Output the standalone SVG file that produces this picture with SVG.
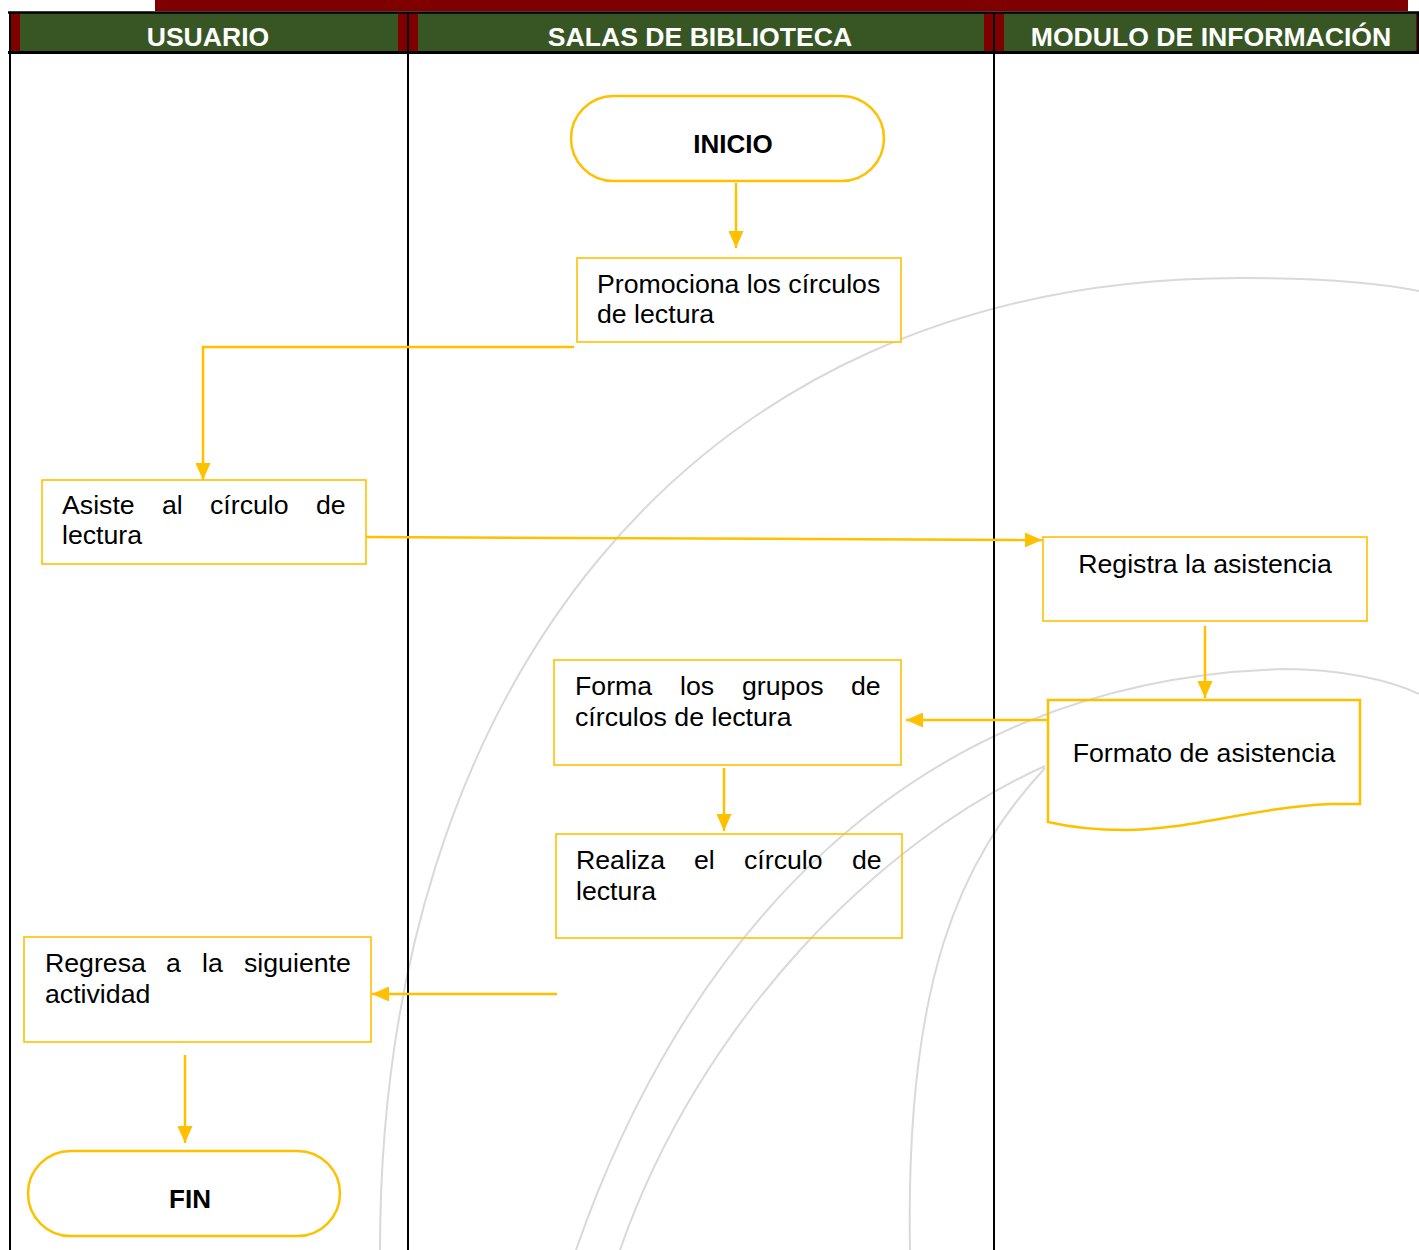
<svg xmlns="http://www.w3.org/2000/svg" width="1419" height="1250" viewBox="0 0 1419 1250">
<defs>
<style>
.lane{fill:#fff;font-family:"Liberation Sans",Arial,sans-serif;font-weight:bold;font-size:26.6px;text-anchor:middle}
.box{fill:none;stroke:#FFC000;stroke-width:1.6}
.term{fill:#fff;stroke:#FFC000;stroke-width:2.5}
.t{font-family:"Liberation Sans",Arial,sans-serif;font-size:26.7px;fill:#000}
.tb{font-family:"Liberation Sans",Arial,sans-serif;font-size:26px;font-weight:bold;fill:#000;text-anchor:middle}
.conn{fill:none;stroke:#FFC000;stroke-width:2.5;marker-end:url(#arr)}
.wm{fill:none;stroke:#d9d9d9;stroke-width:2}
.div{stroke:#000;stroke-width:2}
</style>
<marker id="arr" markerUnits="userSpaceOnUse" markerWidth="17" markerHeight="15" refX="17" refY="7.5" orient="auto">
<path d="M0,0 L17,7.5 L0,15 z" fill="#FFC000"/>
</marker>
</defs>
<rect width="1419" height="1250" fill="#fff"/>
<g id="watermark">
<path class="wm" d="M380 1250 C380 700 680 278 1240 278 C1320 278 1380 283 1419 291"/>
<path class="wm" d="M576 1250 C680 950 900 680 1283 669 C1340 669 1390 680 1419 694"/>
<path class="wm" d="M1045 766 C880 840 700 1020 620 1250"/>
<path class="wm" d="M1045 768 C960 860 905 980 910 1250"/>
</g>
<g id="header">
<rect x="155" y="0" width="1253" height="11" fill="#800000"/>
<rect x="10" y="12" width="1409" height="41" fill="#375623"/>
<rect x="10" y="12" width="10" height="41" fill="#800000"/>
<rect x="398" y="12" width="9" height="41" fill="#800000"/>
<rect x="409" y="12" width="9" height="41" fill="#800000"/>
<rect x="984" y="12" width="9" height="41" fill="#800000"/>
<rect x="995" y="12" width="9" height="41" fill="#800000"/>
<rect x="1416" y="12" width="3" height="41" fill="#800000"/>
<line x1="8" y1="12.5" x2="1419" y2="12.5" stroke="#000" stroke-width="2.5"/>
<line x1="8" y1="52.5" x2="1419" y2="52.5" stroke="#000" stroke-width="3"/>
<line x1="1418" y1="12" x2="1418" y2="53" stroke="#000" stroke-width="2"/>
<text class="lane" x="208" y="46">USUARIO</text>
<text class="lane" x="700" y="46">SALAS DE BIBLIOTECA</text>
<text class="lane" x="1211" y="46">MODULO DE INFORMACIÓN</text>
</g>
<g id="lanes">
<line class="div" x1="10" y1="12" x2="10" y2="1250"/>
<line class="div" x1="408" y1="12" x2="408" y2="1250"/>
<line class="div" x1="994" y1="12" x2="994" y2="1250"/>
</g>
<g id="connectors">
<path class="conn" d="M736 183 V248"/>
<path class="conn" d="M574 347 H203 V480"/>
<path class="conn" d="M366 537 L1042 540"/>
<path class="conn" d="M1205 626 V698"/>
<path class="conn" d="M1048 720 H906"/>
<path class="conn" d="M724 768 V831"/>
<path class="conn" d="M557 994 H372"/>
<path class="conn" d="M185 1055 V1143"/>
</g>
<g id="inicio">
<rect class="term" x="571" y="96" width="313" height="85" rx="42.5"/>
<text class="tb" x="733" y="153">INICIO</text>
</g>
<g id="promociona">
<rect class="box" x="577" y="258" width="324" height="84" style="fill:#fff"/>
<text class="t" x="597" y="293">Promociona los círculos</text>
<text class="t" x="597" y="323">de lectura</text>
</g>
<g id="asiste">
<rect class="box" x="42" y="480" width="324" height="84"/>
<text class="t" y="514"><tspan x="62">Asiste</tspan><tspan x="162">al</tspan><tspan x="210">círculo</tspan><tspan x="316">de</tspan></text>
<text class="t" x="62" y="544">lectura</text>
</g>
<g id="registra">
<rect class="box" x="1043" y="537" width="324" height="84"/>
<text class="t" x="1205" y="573" text-anchor="middle">Registra la asistencia</text>
</g>
<g id="formato">
<path d="M1048 700 H1360 V804 H1330 C1250 808 1190 830 1125 830 C1090 830 1065 826 1048 822 Z" fill="none" stroke="#FFC000" stroke-width="2.5"/>
<text class="t" x="1204" y="762" text-anchor="middle">Formato de asistencia</text>
</g>
<g id="forma">
<rect class="box" x="554" y="660" width="347" height="105"/>
<text class="t" y="695"><tspan x="575">Forma</tspan><tspan x="680">los</tspan><tspan x="742">grupos</tspan><tspan x="851">de</tspan></text>
<text class="t" x="575" y="726">círculos de lectura</text>
</g>
<g id="realiza">
<rect class="box" x="556" y="834" width="346" height="104"/>
<text class="t" y="869"><tspan x="576">Realiza</tspan><tspan x="694">el</tspan><tspan x="744">círculo</tspan><tspan x="852">de</tspan></text>
<text class="t" x="576" y="900">lectura</text>
</g>
<g id="regresa">
<rect class="box" x="24" y="937" width="347" height="105"/>
<text class="t" y="972"><tspan x="45">Regresa</tspan><tspan x="166">a</tspan><tspan x="202">la</tspan><tspan x="244">siguiente</tspan></text>
<text class="t" x="45" y="1003">actividad</text>
</g>
<g id="fin">
<rect class="term" x="28" y="1151" width="312" height="85" rx="42.5"/>
<text class="tb" x="190" y="1208">FIN</text>
</g>
</svg>
